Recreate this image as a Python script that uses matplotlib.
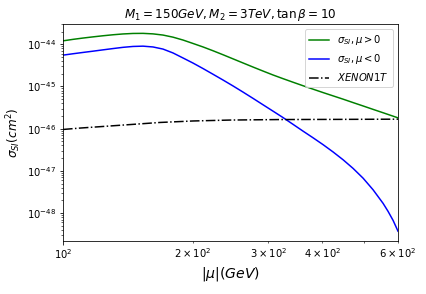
import numpy as np
import matplotlib
matplotlib.use("Agg")
import matplotlib.pyplot as plt

# |mu| sample positions (GeV) read along the x axis
mu = [100, 105.5, 111.3, 117.4, 123.8, 130.7, 137.8, 145.4, 153.4, 161.8,
      170.7, 180.1, 190.0, 200.4, 211.5, 223.1, 235.4, 248.3, 261.9, 276.3,
      291.5, 307.5, 324.4, 342.3, 361.1, 380.9, 401.9, 424.0, 447.3, 471.8,
      497.8, 525.1, 554.0, 569.0, 584.4, 600]

# log10(sigma_SI / cm^2), mu > 0 (green); the 569 GeV point is omitted
logsig_pos = [-43.919, -43.884, -43.853, -43.825, -43.799, -43.775, -43.756,
              -43.744, -43.742, -43.754, -43.782, -43.832, -43.900, -43.981,
              -44.064, -44.154, -44.249, -44.346, -44.443, -44.540, -44.635,
              -44.728, -44.815, -44.900, -44.983, -45.064, -45.145, -45.223,
              -45.301, -45.382, -45.462, -45.543, -45.623, -45.704, -45.744]
mu_pos = mu[:33] + mu[34:]

# log10(sigma_SI / cm^2), mu < 0 (blue)
logsig_neg = [-44.258, -44.225, -44.194, -44.164, -44.133, -44.102, -44.073,
              -44.052, -44.045, -44.064, -44.114, -44.206, -44.325, -44.445,
              -44.576, -44.711, -44.848, -44.988, -45.133, -45.282, -45.434,
              -45.585, -45.737, -45.898, -46.059, -46.216, -46.379, -46.552,
              -46.737, -46.941, -47.173, -47.448, -47.770, -47.960, -48.173,
              -48.429]
mu_neg = mu

# XENON1T limit
mu_xenon = [100, 109.5, 121.9, 140.9, 168.0, 200.4, 244.4, 319.2, 440.0, 600]
logsig_xenon = [-46.019, -45.986, -45.953, -45.908, -45.853, -45.818, -45.796,
                -45.784, -45.780, -45.775]

fig = plt.figure(figsize=(426/72, 294/72), dpi=72)
ax = fig.add_axes([63/426, 1-240.5/294, (398-63)/426, (240.5-24)/294])

ax.plot(mu_pos, 10**np.array(logsig_pos), color='g', lw=1.5, label=r'$\sigma_{SI},\mu>0$')
ax.plot(mu_neg, 10**np.array(logsig_neg), color='b', lw=1.5, label=r'$\sigma_{SI},\mu<0$')
ax.plot(mu_xenon, 10**np.array(logsig_xenon), color='k', ls='-.', lw=1.5, label=r'$XENON1T$')

ax.set_xscale('log')
ax.set_yscale('log')
ax.set_xlim(100, 600)
ax.set_ylim(10**-48.65, 10**-43.52)
ax.set_xlabel(r'$|\mu|(GeV)$', fontsize=14)
ax.set_ylabel(r'$\sigma_{SI}(cm^2)$', fontsize=12)
ax.set_title(r'$M_1=150GeV,M_2=3TeV,\tan\beta=10$', fontsize=12)
ax.tick_params(labelsize=10)
ax.legend(loc='upper right', fontsize=10)

fig.savefig('out.png', dpi=72)
